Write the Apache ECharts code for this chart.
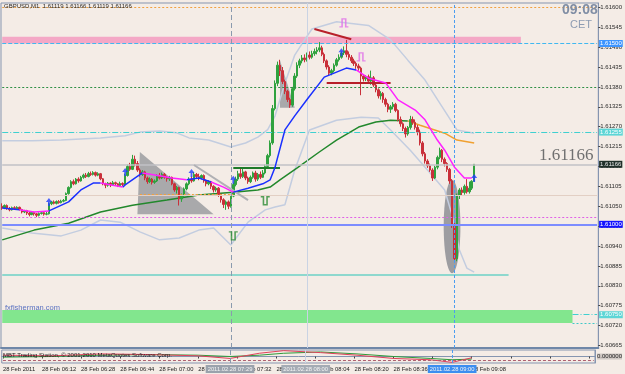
<!DOCTYPE html>
<html><head><meta charset="utf-8">
<script src="https://cdn.jsdelivr.net/npm/echarts@6/dist/echarts.min.js"></script>
<style>html,body{margin:0;padding:0;background:#f4ece6}#c{width:625px;height:374px}</style>
</head><body><div id="c"></div>
<script>
// ---------- data ----------
const chartTitle = 'GBPUSD,M1  1.61119 1.61166 1.61119 1.61166';
const slotCount = 243;            // 193 M1 bars (05:56 .. 09:08) + empty chart shift
const startMinute = 5 * 60 + 56;  // 05:56
const xTickLabels = ['28 Feb 2011','28 Feb 06:12','28 Feb 06:28','28 Feb 06:44','28 Feb 07:00','28 Feb 07:16','28 Feb 07:32','28 Feb 07:48','28 Feb 08:04','28 Feb 08:20','28 Feb 08:36','28 Feb 08:52','28 Feb 09:08'];
const yTickValues = [1.61600,1.61545,1.61490,1.61435,1.61380,1.61325,1.61270,1.61215,1.61160,1.61105,1.61050,1.60995,1.60940,1.60885,1.60830,1.60775,1.60720,1.60665];
const yMin = 1.60658, yMax = 1.61612;

// [open, close, low, high]
const candles = [
[1.61050,1.61045,1.61040,1.61058],[1.61045,1.61052,1.61042,1.61055],[1.61052,1.61044,1.61040,1.61055],[1.61044,1.61040,1.61036,1.61048],
[1.61040,1.61046,1.61038,1.61049],[1.61046,1.61043,1.61040,1.61050],[1.61043,1.61047,1.61041,1.61050],[1.61047,1.61041,1.61038,1.61049],
[1.61041,1.61034,1.61030,1.61043],[1.61034,1.61038,1.61031,1.61040],[1.61038,1.61031,1.61026,1.61040],[1.61031,1.61027,1.61022,1.61034],
[1.61027,1.61033,1.61025,1.61036],[1.61033,1.61029,1.61024,1.61035],[1.61029,1.61025,1.61020,1.61031],[1.61025,1.61030,1.61022,1.61033],
[1.61030,1.61032,1.61027,1.61035],[1.61032,1.61028,1.61024,1.61034],[1.61028,1.61029,1.61025,1.61034],[1.61029,1.61057,1.61027,1.61060],
[1.61057,1.61062,1.61053,1.61065],[1.61062,1.61058,1.61055,1.61066],[1.61058,1.61063,1.61055,1.61066],[1.61063,1.61060,1.61057,1.61067],
[1.61060,1.61064,1.61058,1.61068],[1.61064,1.61066,1.61061,1.61070],[1.61066,1.61085,1.61064,1.61088],[1.61085,1.61102,1.61082,1.61105],
[1.61102,1.61118,1.61099,1.61122],[1.61118,1.61112,1.61108,1.61124],[1.61112,1.61125,1.61110,1.61128],[1.61125,1.61120,1.61115,1.61130],
[1.61120,1.61130,1.61118,1.61134],[1.61130,1.61136,1.61126,1.61140],[1.61136,1.61132,1.61128,1.61142],[1.61132,1.61140,1.61130,1.61145],
[1.61140,1.61138,1.61134,1.61146],[1.61138,1.61143,1.61135,1.61147],[1.61143,1.61136,1.61132,1.61146],[1.61136,1.61140,1.61133,1.61144],
[1.61140,1.61126,1.61122,1.61142],[1.61126,1.61112,1.61108,1.61128],[1.61112,1.61108,1.61100,1.61115],[1.61108,1.61114,1.61104,1.61117],
[1.61114,1.61109,1.61103,1.61116],[1.61109,1.61115,1.61106,1.61120],[1.61115,1.61112,1.61107,1.61118],[1.61112,1.61107,1.61103,1.61114],
[1.61107,1.61113,1.61105,1.61118],[1.61113,1.61110,1.61106,1.61116],[1.61110,1.61135,1.61108,1.61140],[1.61135,1.61160,1.61132,1.61165],
[1.61160,1.61152,1.61148,1.61170],[1.61152,1.61180,1.61150,1.61192],[1.61180,1.61168,1.61160,1.61190],[1.61168,1.61150,1.61145,1.61175],
[1.61150,1.61138,1.61132,1.61155],[1.61138,1.61145,1.61134,1.61150],[1.61145,1.61128,1.61122,1.61148],[1.61128,1.61118,1.61112,1.61132],
[1.61118,1.61125,1.61114,1.61130],[1.61125,1.61116,1.61110,1.61128],[1.61116,1.61120,1.61112,1.61124],[1.61120,1.61132,1.61117,1.61138],
[1.61132,1.61128,1.61124,1.61142],[1.61128,1.61138,1.61125,1.61143],[1.61138,1.61130,1.61126,1.61142],[1.61130,1.61126,1.61118,1.61134],
[1.61126,1.61130,1.61120,1.61134],[1.61130,1.61112,1.61108,1.61132],[1.61112,1.61095,1.61090,1.61115],[1.61095,1.61102,1.61085,1.61106],
[1.61102,1.61070,1.61052,1.61104],[1.61070,1.61080,1.61062,1.61085],[1.61080,1.61098,1.61075,1.61102],[1.61098,1.61112,1.61094,1.61116],
[1.61112,1.61125,1.61108,1.61130],[1.61125,1.61120,1.61115,1.61132],[1.61120,1.61138,1.61118,1.61145],[1.61138,1.61132,1.61126,1.61142],
[1.61132,1.61128,1.61122,1.61140],[1.61128,1.61135,1.61124,1.61138],[1.61135,1.61120,1.61115,1.61138],[1.61120,1.61112,1.61105,1.61124],
[1.61112,1.61118,1.61108,1.61122],[1.61118,1.61105,1.61098,1.61120],[1.61105,1.61095,1.61088,1.61108],[1.61095,1.61100,1.61090,1.61104],
[1.61100,1.61082,1.61076,1.61103],[1.61082,1.61068,1.61060,1.61085],[1.61068,1.61055,1.61045,1.61072],[1.61055,1.61062,1.61040,1.61066],
[1.61062,1.61050,1.61042,1.61066],[1.61050,1.61078,1.61046,1.61082],[1.61078,1.61110,1.61075,1.61115],[1.61110,1.61125,1.61105,1.61132],
[1.61125,1.61140,1.61120,1.61148],[1.61140,1.61132,1.61126,1.61156],[1.61132,1.61145,1.61128,1.61155],[1.61145,1.61128,1.61122,1.61148],
[1.61128,1.61118,1.61112,1.61132],[1.61118,1.61130,1.61114,1.61135],[1.61130,1.61142,1.61126,1.61146],[1.61142,1.61125,1.61118,1.61148],
[1.61125,1.61138,1.61120,1.61142],[1.61138,1.61130,1.61125,1.61146],[1.61130,1.61142,1.61128,1.61150],[1.61142,1.61160,1.61138,1.61165],
[1.61160,1.61190,1.61155,1.61195],[1.61190,1.61225,1.61185,1.61232],[1.61225,1.61320,1.61220,1.61330],[1.61320,1.61390,1.61315,1.61398],
[1.61390,1.61440,1.61382,1.61450],[1.61440,1.61425,1.61410,1.61455],[1.61425,1.61395,1.61388,1.61435],[1.61395,1.61368,1.61360,1.61400],
[1.61368,1.61345,1.61338,1.61372],[1.61345,1.61330,1.61322,1.61350],[1.61330,1.61375,1.61325,1.61380],[1.61375,1.61410,1.61370,1.61418],
[1.61410,1.61440,1.61405,1.61448],[1.61440,1.61452,1.61432,1.61458],[1.61452,1.61460,1.61445,1.61468],[1.61460,1.61455,1.61448,1.61470],
[1.61455,1.61468,1.61450,1.61475],[1.61468,1.61462,1.61456,1.61478],[1.61462,1.61472,1.61458,1.61480],[1.61472,1.61478,1.61466,1.61486],
[1.61478,1.61482,1.61470,1.61490],[1.61482,1.61488,1.61476,1.61504],[1.61488,1.61470,1.61465,1.61494],[1.61470,1.61452,1.61446,1.61475],
[1.61452,1.61435,1.61428,1.61456],[1.61435,1.61418,1.61412,1.61440],[1.61418,1.61425,1.61412,1.61430],[1.61425,1.61440,1.61420,1.61445],
[1.61440,1.61455,1.61436,1.61460],[1.61455,1.61462,1.61450,1.61470],[1.61462,1.61474,1.61458,1.61478],[1.61474,1.61480,1.61468,1.61492],
[1.61480,1.61470,1.61462,1.61510],[1.61470,1.61462,1.61455,1.61478],[1.61462,1.61452,1.61446,1.61468],[1.61452,1.61445,1.61438,1.61458],
[1.61445,1.61438,1.61430,1.61450],[1.61438,1.61432,1.61425,1.61444],[1.61432,1.61410,1.61357,1.61436],[1.61410,1.61402,1.61395,1.61415],
[1.61402,1.61408,1.61396,1.61412],[1.61408,1.61396,1.61388,1.61414],[1.61396,1.61405,1.61386,1.61425],[1.61405,1.61385,1.61380,1.61410],
[1.61385,1.61372,1.61365,1.61390],[1.61372,1.61355,1.61348,1.61376],[1.61355,1.61362,1.61345,1.61368],[1.61362,1.61345,1.61336,1.61366],
[1.61345,1.61332,1.61325,1.61350],[1.61332,1.61318,1.61310,1.61336],[1.61318,1.61325,1.61308,1.61330],[1.61325,1.61332,1.61318,1.61338],
[1.61332,1.61315,1.61310,1.61336],[1.61315,1.61290,1.61285,1.61318],[1.61290,1.61278,1.61270,1.61298],[1.61278,1.61265,1.61258,1.61282],
[1.61265,1.61250,1.61240,1.61270],[1.61250,1.61268,1.61245,1.61272],[1.61268,1.61290,1.61262,1.61300],[1.61290,1.61282,1.61275,1.61298],
[1.61282,1.61268,1.61262,1.61290],[1.61268,1.61255,1.61246,1.61275],[1.61255,1.61225,1.61218,1.61262],[1.61225,1.61195,1.61188,1.61230],
[1.61195,1.61175,1.61168,1.61200],[1.61175,1.61162,1.61156,1.61180],[1.61162,1.61150,1.61145,1.61168],[1.61150,1.61128,1.61120,1.61155],
[1.61128,1.61158,1.61125,1.61162],[1.61158,1.61185,1.61152,1.61190],[1.61185,1.61205,1.61180,1.61212],[1.61205,1.61180,1.61172,1.61208],
[1.61180,1.61168,1.61160,1.61185],[1.61168,1.61152,1.61145,1.61172],[1.61152,1.61120,1.61112,1.61156],[1.61120,1.61000,1.60990,1.61125],
[1.61000,1.60905,1.60893,1.61005],[1.60905,1.61080,1.60898,1.61085],[1.61080,1.61095,1.61070,1.61100],[1.61095,1.61088,1.61080,1.61102],
[1.61088,1.61105,1.61082,1.61110],[1.61105,1.61090,1.61085,1.61125],[1.61090,1.61100,1.61085,1.61118],[1.61100,1.61119,1.61095,1.61122],
[1.61119,1.61166,1.61119,1.61166]
];

// fast MA, split into rising (blue) and falling (magenta) pieces: [barIndex, price]
const maFastUp = [
 [[0,1.61045],[7,1.61040]],
 [[19,1.61037],[27,1.61062],[32,1.61095],[37,1.61114],[40,1.61114]],
 [[49,1.61103],[50,1.61109],[57,1.61142]],
 [[75,1.61123],[80,1.61128],[85,1.61117]],
 [[94,1.61089],[100,1.61100],[106,1.61112],[109,1.61123],[111,1.61158],[115,1.61261],[119,1.61300],[124,1.61345],[131,1.61407],[140,1.61432],[144,1.61427]]
];
const maFastDown = [
 [[7,1.61040],[13,1.61034],[19,1.61037]],
 [[40,1.61114],[45,1.61108],[49,1.61103]],
 [[57,1.61142],[64,1.61134],[69,1.61128],[75,1.61123]],
 [[85,1.61117],[90,1.61103],[94,1.61089]],
 [[144,1.61427],[149,1.61404],[156,1.61391],[161,1.61344],[168,1.61316],[172,1.61289],[177,1.61233],[180,1.61205],[184,1.61158],[188,1.61128],[191,1.61128]]
];
// slow MA: rising (green) and falling (orange)
const maSlowUp = [[0,1.60957],[13,1.60984],[27,1.61003],[40,1.61034],[53,1.61053],[67,1.61067],[80,1.61081],[94,1.61089],[104,1.61095],[109,1.61103],[113,1.61123],[120,1.61156],[129,1.61200],[136,1.61233],[145,1.61269],[152,1.61283],[158,1.61288],[165,1.61286]];
const maSlowDown = [[165,1.61286],[170,1.61274],[180,1.61252],[185,1.61233],[192,1.61225]];
// envelope bands
const bandUpper = [[0,1.61231],[12,1.61231],[24,1.61233],[40,1.61239],[50,1.61245],[56,1.61255],[64,1.61258],[71,1.61253],[76,1.61239],[84,1.61233],[93,1.61214],[99,1.61225],[104,1.61241],[108,1.61262],[111,1.61300],[115,1.61390],[119,1.61468],[123,1.61510],[126,1.61540],[136,1.61560],[149,1.61550],[158,1.61510],[165,1.61454],[172,1.61399],[178,1.61335],[185,1.61261],[192,1.61252]];
const bandLower = [[0,1.60990],[12,1.60976],[24,1.60968],[32,1.60984],[40,1.61012],[48,1.61006],[56,1.60979],[64,1.60957],[72,1.60962],[80,1.60984],[86,1.60990],[93,1.60943],[100,1.61006],[107,1.61040],[111,1.61048],[115,1.61054],[119,1.61150],[125,1.61261],[136,1.61288],[146,1.61296],[153,1.61294],[158,1.61261],[166,1.61205],[173,1.61150],[180,1.61095],[183,1.61026],[186,1.60929],[189,1.60879],[192,1.60868]];

// chart objects
const triangles = [[56,1.61200,55,1.61028,86,1.61028],[113,1.61454,113,1.61322,119,1.61322]];
const ellipses = [[183,1.60994,3.4,0.00129]];           // centre bar, centre price, half-width (bars), half-height (price)
const blueArrows = [[19,1.61062],[50,1.61145],[77,1.61142],[94,1.61123],[138,1.61476],[192,1.61128]];
const greenMarks = [[94,1.60968],[107,1.61065]];
const pinkMarks = [[139,1.61557],[146,1.61463]];
const redTrend = [[127,1.61540],[142,1.61512]];
const redLevel = [[132,1.61391],[158,1.61391]];
const greenLevel = [[94,1.61156],[113,1.61156]];
const grayTrend = [[78,1.61164],[100,1.61067]];
const orangeLevel = [[56,1.61084],[94,1.61084]];
const tealLevel = [[0,1.60860],[206,1.60860]];
const pinkZone = [[0,1.61519],[211,1.61500]];
const greenZone = [[0,1.60763],[232,1.60727]];
const vLines = [{bar:93,text:'2011.02.28 07:29'},{bar:124,text:'2011.02.28 08:00'},{bar:184,text:'2011.02.28 09:00'}];
// indicator sub-window
const subRed = [[0,0.2],[20,0.1],[40,0.4],[60,0.3],[80,0.1],[93,-0.3],[105,0.5],[115,0.9],[130,0.6],[145,0.2],[160,-0.3],[175,-0.5],[184,-0.9],[192,-0.2]];
const subGreen = [[0,-0.1],[20,0.0],[40,0.2],[60,0.3],[80,0.2],[93,0.0],[105,0.2],[115,0.5],[130,0.7],[145,0.4],[160,0.0],[175,-0.3],[184,-0.5],[192,-0.4]];

// ---------- build ----------
const categories = [];
for (let i = 0; i < slotCount; i++) {
  const m = startMinute + i;
  categories.push(String(Math.floor(m / 60)).padStart(2, '0') + ':' + String(m % 60).padStart(2, '0'));
}
const FONT = 'Liberation Sans';
const LAST = slotCount - 1;
const hl = (text, bg, fg) => ({show: true, position: 'end', formatter: text, backgroundColor: bg, color: fg || '#fff', fontSize: 6, fontFamily: FONT, padding: [1, 1, 0, 1], distance: 2});
const seg = (pair, style, label) => [{coord: pair[0], lineStyle: style, label: label || {show: false}}, {coord: pair[1]}];
const full = (v, style, label) => seg([[0, v], [LAST, v]], style, label);

const hLines = [
  full(1.61600, {color: '#f0a040', type: [2, 2], width: 1}),
  full(1.61500, {color: '#40b8f0', type: [4, 2], width: 1}, hl('1.61500', '#3d95ff')),
  full(1.61380, {color: '#2f8f45', type: [2, 2], width: 1}),
  full(1.61255, {color: '#3fd0d0', type: [6, 2, 1, 2], width: 1}, hl('1.61255', '#5ed6d6')),
  full(1.61166, {color: '#c2c2c6', type: 'solid', width: 1.5}, hl('1.61166', '#20302a', '#e8e8e8')),
  full(1.61081, {color: '#e2cfc4', type: 'solid', width: 1}),
  full(1.61020, {color: '#e060e8', type: [2, 2], width: 1}),
  full(1.61000, {color: '#7c8cff', type: 'solid', width: 2}, hl('1.61000', '#1414ff')),
  seg([[232, 1.60750], [LAST, 1.60750]], {color: '#40d0d0', type: [6, 2, 1, 2], width: 1}, hl('1.60750', '#5ed6d6')),
  seg([[232, 1.60727], [LAST, 1.60727]], {color: '#40c8c8', type: [2, 2], width: 1}),
  seg(tealLevel, {color: '#6cd2c6', width: 1.5, type: 'solid'}),
  seg(redTrend, {color: '#b8202a', width: 2, type: 'solid'}),
  seg(redLevel, {color: '#b8202a', width: 2, type: 'solid'}),
  seg(greenLevel, {color: '#1e7a28', width: 2, type: 'solid'}),
  seg(grayTrend, {color: '#b0b0b4', width: 2, type: 'solid'}),
  seg(orangeLevel, {color: '#f0a040', width: 1, type: [2, 2]})
];
const vStyles = [
  {color: '#8a9aae', type: [5, 3], width: 1},
  {color: '#c9d3e4', type: 'solid', width: 1},
  {color: '#4b9cf0', type: [3, 2], width: 1}
];
const vBg = ['#9aa2ac', '#a4abb4', '#3c8ef0'];

const series = [];
// background objects
series.push({
  type: 'custom', xAxisIndex: 0, yAxisIndex: 0, z: 1, silent: true, clip: false,
  data: triangles,
  renderItem: (p, api) => {
    const pts = [0, 2, 4].map(k => api.coord([api.value(k), api.value(k + 1)]));
    return {type: 'polygon', shape: {points: pts}, style: {fill: '#a9a9ab'}};
  }
});
series.push({
  type: 'custom', xAxisIndex: 0, yAxisIndex: 0, z: 1, silent: true, clip: false,
  data: ellipses,
  renderItem: (p, api) => {
    const c = api.coord([api.value(0), api.value(1)]);
    const bw = api.size([1, 0])[0];
    const top = api.coord([api.value(0), api.value(1) + api.value(3)]);
    return {type: 'ellipse', shape: {cx: c[0], cy: c[1], rx: api.value(2) * bw, ry: c[1] - top[1]}, style: {fill: '#9d9da1'}};
  }
});
// bands
[bandUpper, bandLower].forEach(d => series.push({type: 'line', data: d, symbol: 'none', z: 2, silent: true, lineStyle: {color: '#c3cde0', width: 1.5}}));
series.push({type: 'line', data: maSlowUp, symbol: 'none', z: 3, silent: true, lineStyle: {color: '#22882c', width: 1.5}});
series.push({type: 'line', data: maSlowDown, symbol: 'none', z: 3, silent: true, lineStyle: {color: '#f0a030', width: 1.5}});
// candles
series.push({
  type: 'candlestick', xAxisIndex: 0, yAxisIndex: 0, z: 4, barWidth: 2, data: candles,
  itemStyle: {color: '#2fa23e', color0: '#c9303a', borderColor: '#2fa23e', borderColor0: '#c9303a', borderWidth: 1},
  markArea: {silent: true, z: 1, data: [
    [{coord: pinkZone[0], itemStyle: {color: '#f4a8c6'}}, {coord: pinkZone[1]}],
    [{coord: greenZone[0], itemStyle: {color: '#82e68e'}}, {coord: greenZone[1]}]
  ]},
  markLine: {silent: true, symbol: ['none', 'none'], animation: false, label: {show: false},
    data: hLines.concat(vLines.map((v, k) => ({xAxis: v.bar, lineStyle: vStyles[k], label: {show: false}})))}
});
// fast MA
maFastUp.forEach(d => series.push({type: 'line', data: d, symbol: 'none', z: 5, silent: true, lineStyle: {color: '#1a30ff', width: 1.5}}));
maFastDown.forEach(d => series.push({type: 'line', data: d, symbol: 'none', z: 5, silent: true, lineStyle: {color: '#ff22ff', width: 1.5}}));
// symbols
series.push({type: 'scatter', data: blueArrows, z: 6, silent: true, symbol: 'path://M5,0 L10,6 L6.5,6 L6.5,12 L3.5,12 L3.5,6 L0,6 Z', symbolSize: [6, 8], itemStyle: {color: '#1f3cff'}});
series.push({type: 'scatter', data: greenMarks, z: 6, silent: true, symbol: 'path://M0,0 L3,0 L3,9 L7,9 L7,0 L10,0', symbolSize: [9, 8], itemStyle: {color: 'rgba(0,0,0,0)', borderColor: '#2c8c34', borderWidth: 1.5}});
series.push({type: 'scatter', data: pinkMarks, z: 6, silent: true, symbol: 'path://M0,9 L3,9 L3,0 L7,0 L7,9 L10,9', symbolSize: [9, 8], itemStyle: {color: 'rgba(0,0,0,0)', borderColor: '#e070e8', borderWidth: 1.5}});
// sub window
series.push({type: 'line', xAxisIndex: 1, yAxisIndex: 1, data: subGreen, symbol: 'none', silent: true, lineStyle: {color: '#2f9a3a', width: 1}});
series.push({type: 'line', xAxisIndex: 1, yAxisIndex: 1, data: subRed, symbol: 'none', silent: true, lineStyle: {color: '#e0405a', width: 1},
  markLine: {silent: true, symbol: ['none', 'none'], animation: false,
    data: [seg([[0, -0.55], [LAST, -0.55]], {color: '#b06070', type: [3, 2], width: 1})].concat(
      vLines.map((v, k) => ({xAxis: v.bar, lineStyle: vStyles[k],
        label: {show: true, position: 'start', formatter: v.text, backgroundColor: vBg[k], color: '#f4f4f4', fontSize: 5.8, fontFamily: FONT, padding: [1, 2], distance: 2}})))}
});

const option = {
  animation: false,
  backgroundColor: '#f4ece6',
  grid: [
    {left: 1, top: 3, width: 601, height: 345, show: true, borderColor: '#8595b0', borderWidth: 1},
    {left: 1, top: 350, width: 601, height: 13, show: true, borderColor: '#8595b0', borderWidth: 1}
  ],
  xAxis: [
    {type: 'category', gridIndex: 0, data: categories, boundaryGap: true,
     axisLine: {show: true, lineStyle: {color: '#6f87a8', width: 2}}, axisTick: {show: false}, axisLabel: {show: false}, splitLine: {show: false}},
    {type: 'category', gridIndex: 1, data: categories, boundaryGap: true,
     axisLine: {show: true, lineStyle: {color: '#8595b0', width: 1}},
     axisTick: {show: true, interval: 15, alignWithLabel: true, length: 2, lineStyle: {color: '#444'}},
     axisLabel: {show: true, interval: 15, align: 'left', margin: 3, fontSize: 5.8, fontFamily: FONT, color: '#222',
       formatter: (v, idx) => (idx % 16 === 0 && idx / 16 < xTickLabels.length) ? xTickLabels[idx / 16] : ''},
     splitLine: {show: false}}
  ],
  yAxis: [
    {type: 'value', gridIndex: 0, position: 'right', min: yMin, max: yMax, scale: true,
     axisLine: {show: true, lineStyle: {color: '#8595b0'}},
     axisTick: {show: true, customValues: yTickValues, length: 2, lineStyle: {color: '#444'}},
     axisLabel: {show: true, customValues: yTickValues, formatter: v => v.toFixed(5), fontSize: 6, fontFamily: FONT, color: '#2a2a2a', margin: 2},
     splitLine: {show: false}},
    {type: 'value', gridIndex: 1, position: 'right', min: -1, max: 1,
     axisLine: {show: true, lineStyle: {color: '#8595b0'}}, axisTick: {show: false},
     axisLabel: {show: true, customValues: [0], formatter: () => '0.000000', fontSize: 6, fontFamily: FONT, color: '#222', margin: 2, backgroundColor: '#cfc8c4'},
     splitLine: {show: false}}
  ],
  graphic: [
    {type: 'text', left: 4, top: 3, z: 100, style: {text: chartTitle, fontSize: 6, fontFamily: FONT, fill: '#2a2a2a'}},
    {type: 'text', left: 562, top: 3, z: 100, style: {text: '09:08', fontSize: 14, fontWeight: 'bold', fontFamily: FONT, fill: '#7f8da4'}},
    {type: 'text', left: 570, top: 19, z: 100, style: {text: 'CET', fontSize: 11, fontFamily: FONT, fill: '#8e9cb2'}},
    {type: 'text', left: 539, top: 147, z: 100, style: {text: '1.61166', fontSize: 17, fontFamily: 'Liberation Serif', fill: '#707070'}},
    {type: 'text', left: 5, top: 304, z: 100, style: {text: 'fxfisherman.com', fontSize: 7.5, fontFamily: FONT, fill: '#5a72c0'}},
    {type: 'text', left: 3, top: 352, z: 100, style: {text: 'MBT Trading Station, © 2001-2010 MetaQuotes Software Corp.', fontSize: 6, fontFamily: FONT, fill: '#222'}}
  ],
  series: series
};
const chart = echarts.init(document.getElementById('c'), null, {renderer: 'canvas'});
chart.setOption(option);
</script>
</body></html>
